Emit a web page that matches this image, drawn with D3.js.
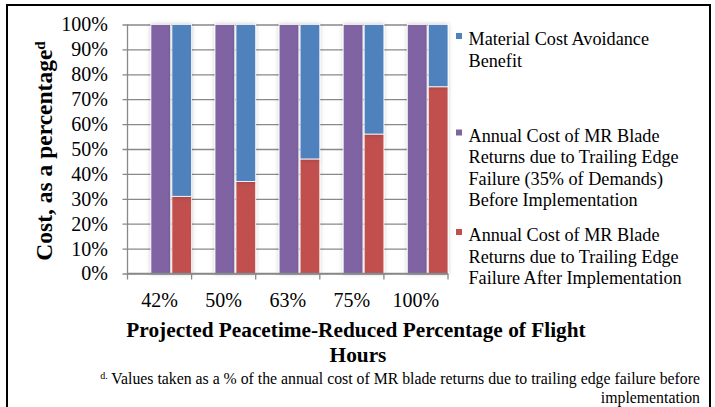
<!DOCTYPE html>
<html>
<head>
<meta charset="utf-8">
<script src="https://d3js.org/d3.v7.min.js"></script>
<style>
body { margin: 0; background: #fff; }
text { font-family: "Liberation Serif", "Times New Roman", serif; fill: #000; }
.tick text { font-size: 20px; }
.grid line { stroke: #898989; stroke-width: 1.3px; }
.title { font-weight: bold; }
</style>
</head>
<body>
<div id="chart"></div>
<script>
// data
var categories = ["42%", "50%", "63%", "75%", "100%"];
var beforeValues = [100, 100, 100, 100, 100];   // purple, before implementation
var afterValues = [31, 37, 46, 56, 75];          // red, after implementation
var avoidanceValues = [69, 63, 54, 44, 25];      // blue, stacked on red
var yTicks = [0, 10, 20, 30, 40, 50, 60, 70, 80, 90, 100];
var legendLabels = [
  ["Material Cost Avoidance", "Benefit"],
  ["Annual Cost of MR Blade", "Returns due to Trailing Edge", "Failure (35% of Demands)", "Before Implementation"],
  ["Annual Cost of MR Blade", "Returns due to Trailing Edge", "Failure After Implementation"]
];
var legendColors = ["#4F81BD", "#8064A2", "#C0504D"];

var W = 715, H = 407;
var plot = {left: 127.5, right: 448, top: 24.5, bottom: 273.5};

var svg = d3.select("#chart").append("svg")
    .attr("width", W)
    .attr("height", H);

var defs = svg.append("defs");
var shadow = defs.append("filter").attr("id", "shadow")
    .attr("x", "-30%").attr("y", "-5%").attr("width", "160%").attr("height", "110%");
shadow.append("feDropShadow")
    .attr("dx", 0).attr("dy", 0).attr("stdDeviation", 2)
    .attr("flood-color", "#000").attr("flood-opacity", 0.22);

// outer frame
svg.append("rect")
    .attr("x", 7).attr("y", 5)
    .attr("width", 703).attr("height", 440)
    .attr("fill", "none")
    .attr("stroke", "#000")
    .attr("stroke-width", 2);

var x = d3.scaleBand().domain(categories).range([plot.left, plot.right]).padding(0);
var sub = d3.scaleBand().domain(["before", "after"])
    .range([x.bandwidth() * 0.365, x.bandwidth()])
    .paddingInner(0.06);
var y = d3.scaleLinear().domain([0, 100]).range([plot.bottom, plot.top]);

// y axis + gridlines
var yAxis = svg.append("g")
    .attr("class", "grid")
    .attr("transform", "translate(" + plot.left + ",0)")
    .call(d3.axisLeft(y)
        .tickValues(yTicks)
        .tickSize(-(plot.right - plot.left))
        .tickPadding(19.5)
        .tickFormat(function(d) { return d + "%"; }));
yAxis.select(".domain").remove();
yAxis.selectAll(".tick line").attr("x1", -5);
yAxis.selectAll(".tick text")
    .style("font-family", "Liberation Serif")
    .style("font-size", "20px")
    .attr("fill", "#000");

// left axis line
svg.append("line")
    .attr("x1", plot.left).attr("x2", plot.left)
    .attr("y1", plot.top).attr("y2", plot.bottom)
    .attr("stroke", "#898989").attr("stroke-width", 1.3);

// bars
var groups = svg.append("g").selectAll("g")
    .data(categories)
  .enter().append("g")
    .attr("transform", function(d) { return "translate(" + x(d) + ",0)"; });

groups.append("rect")
    .attr("x", sub("before"))
    .attr("width", sub.bandwidth())
    .attr("y", function(d, i) { return y(beforeValues[i]); })
    .attr("height", function(d, i) { return y(0) - y(beforeValues[i]); })
    .attr("fill", "#8064A2")
    .attr("stroke", "#fff").attr("stroke-width", 0.8)
    .attr("filter", "url(#shadow)");

groups.append("rect")
    .attr("x", sub("after"))
    .attr("width", sub.bandwidth())
    .attr("y", function(d, i) { return y(afterValues[i]); })
    .attr("height", function(d, i) { return y(0) - y(afterValues[i]); })
    .attr("fill", "#C0504D")
    .attr("stroke", "#fff").attr("stroke-width", 0.8)
    .attr("filter", "url(#shadow)");

groups.append("rect")
    .attr("x", sub("after"))
    .attr("width", sub.bandwidth())
    .attr("y", function(d, i) { return y(afterValues[i] + avoidanceValues[i]); })
    .attr("height", function(d, i) { return y(afterValues[i]) - y(afterValues[i] + avoidanceValues[i]); })
    .attr("fill", "#4F81BD")
    .attr("stroke", "#fff").attr("stroke-width", 0.8)
    .attr("filter", "url(#shadow)");

// x axis: line, boundary ticks, labels
svg.append("line")
    .attr("x1", plot.left).attr("x2", plot.right)
    .attr("y1", plot.bottom).attr("y2", plot.bottom)
    .attr("stroke", "#898989").attr("stroke-width", 1.3);

var bounds = categories.map(function(c) { return x(c); }).concat([plot.right]);
svg.append("g").selectAll("line")
    .data(bounds)
  .enter().append("line")
    .attr("x1", function(d) { return d; }).attr("x2", function(d) { return d; })
    .attr("y1", plot.bottom).attr("y2", plot.bottom + 6)
    .attr("stroke", "#898989").attr("stroke-width", 1.3);

var xAxis = svg.append("g")
    .attr("transform", "translate(0," + plot.bottom + ")")
    .call(d3.axisBottom(x).tickSize(0));
xAxis.select(".domain").remove();
xAxis.selectAll(".tick text")
    .attr("y", 33).attr("dy", 0)
    .style("font-family", "Liberation Serif")
    .style("font-size", "20px")
    .attr("fill", "#000");

// axis titles
var yTitle = svg.append("text")
    .attr("class", "title")
    .attr("transform", "translate(51.5,151) rotate(-90)")
    .attr("text-anchor", "middle")
    .style("font-size", "23.5px");
yTitle.append("tspan").text("Cost, as a percentage");
yTitle.append("tspan").attr("dy", -7).style("font-size", "15px").text("d");

svg.append("text")
    .attr("class", "title")
    .attr("x", 356).attr("y", 337)
    .attr("text-anchor", "middle")
    .style("font-size", "21.3px")
    .text("Projected Peacetime-Reduced Percentage of Flight");
svg.append("text")
    .attr("class", "title")
    .attr("x", 358).attr("y", 362)
    .attr("text-anchor", "middle")
    .style("font-size", "21.3px")
    .text("Hours");

// footnote
var note = svg.append("text")
    .attr("x", 700).attr("y", 383.5)
    .attr("text-anchor", "end")
    .style("font-size", "15.8px");
note.append("tspan").attr("dy", -5).style("font-size", "10px").text("d.");
note.append("tspan").attr("dy", 5).text(" Values taken as a % of the annual cost of MR blade returns due to trailing edge failure before");
svg.append("text")
    .attr("x", 700).attr("y", 403)
    .attr("text-anchor", "end")
    .style("font-size", "15.8px")
    .text("implementation");

// legend
var legendTop = [45, 141.5, 241];
var lineGap = 21.5;
var legend = svg.append("g").selectAll("g")
    .data(legendLabels)
  .enter().append("g")
    .attr("transform", function(d, i) { return "translate(456," + legendTop[i] + ")"; });

legend.append("rect")
    .attr("x", 0).attr("y", -12)
    .attr("width", 6).attr("height", 6)
    .attr("fill", function(d, i) { return legendColors[i]; });

legend.append("text")
    .style("font-size", "18.2px")
    .selectAll("tspan")
    .data(function(d) { return d; })
  .enter().append("tspan")
    .attr("x", 12.5)
    .attr("y", function(d, j) { return j * lineGap; })
    .text(function(d) { return d; });
</script>
</body>
</html>
